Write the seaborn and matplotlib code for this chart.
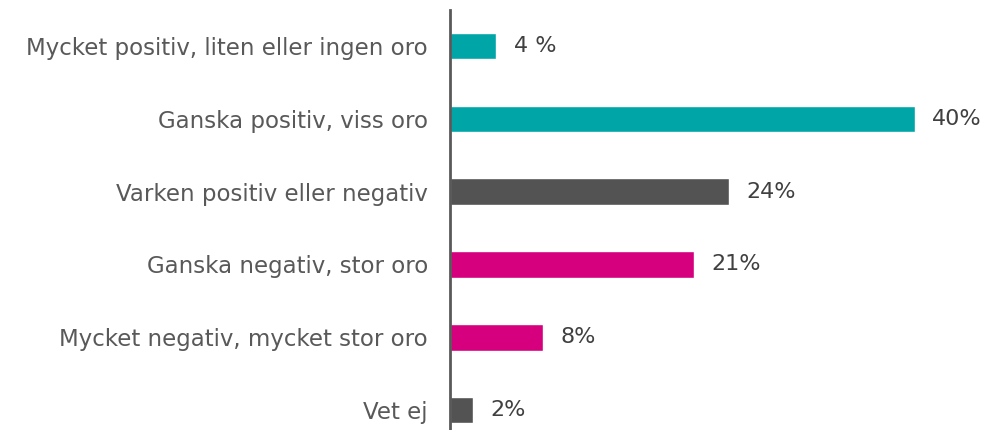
import matplotlib
matplotlib.use("Agg")
import matplotlib.pyplot as plt
import pandas as pd
import seaborn as sns

categories = [
    "Mycket positiv, liten eller ingen oro",
    "Ganska positiv, viss oro",
    "Varken positiv eller negativ",
    "Ganska negativ, stor oro",
    "Mycket negativ, mycket stor oro",
    "Vet ej",
]
values = [4, 40, 24, 21, 8, 2]
value_labels = ["4 %", "40%", "24%", "21%", "8%", "2%"]
colors = ["#00A5A8", "#00A5A8", "#535353", "#D6007F", "#D6007F", "#535353"]

df = pd.DataFrame({"category": categories, "value": values})

sns.set_style("white")
plt.rcParams["font.family"] = ["DejaVu Sans"]

fig = plt.figure(figsize=(9.89, 4.30), dpi=100)
ax = fig.add_axes([450 / 989, 0.0, 539 / 989, 420 / 430])

sns.barplot(data=df, x="value", y="category", hue="category", palette=colors,
            legend=False, width=0.36, ax=ax, orient="h", saturation=1)

for i, (v, lab) in enumerate(zip(values, value_labels)):
    ax.text(v + 1.5, i, lab, va="center", ha="left", fontsize=16, color="#404040")

ax.set_xlim(0, 539 / 11.62)
ax.set_ylim(5.27, -0.49)
ax.set_xlabel("")
ax.set_ylabel("")
ax.set_xticks([])
ax.tick_params(axis="y", length=0, pad=16, labelsize=16.5, labelcolor="#595959")
for s in ["top", "right", "bottom"]:
    ax.spines[s].set_visible(False)
ax.spines["left"].set_color("#595959")
ax.spines["left"].set_linewidth(2)

fig.savefig("out.png", dpi=100)
